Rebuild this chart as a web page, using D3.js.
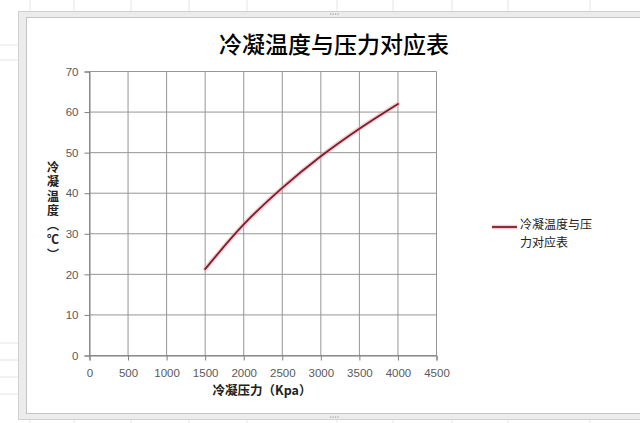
<!DOCTYPE html>
<html>
<head>
<meta charset="utf-8">
<script src="https://cdn.jsdelivr.net/npm/d3@7"></script>
<style>
  html, body { margin: 0; padding: 0; background: #ffffff; }
  svg { display: block; }
</style>
</head>
<body>
<svg id="chart" width="640" height="423"></svg>
<script>
// ---- data ----
const pressure = [1500, 2000, 2500, 3000, 3500, 4000];       // Kpa
const temperature = [21.3, 32.3, 41.3, 49.1, 55.9, 62.0];    // ℃
const xTicks = [0, 500, 1000, 1500, 2000, 2500, 3000, 3500, 4000, 4500];
const yTicks = [0, 10, 20, 30, 40, 50, 60, 70];
const chartTitle = "冷凝温度与压力对应表";
const xTitle = "冷凝压力（Kpa）";
const yTitle = "冷凝温度︵℃︶";
const legendLines = ["冷凝温度与压", "力对应表"];

const svg = d3.select("#chart");

// ---- spreadsheet background ----
const bg = svg.append("g");
[45, 60, 343, 360, 377, 394].forEach(y => {
  bg.append("line").attr("x1", 0).attr("x2", 18).attr("y1", y).attr("y2", y)
    .attr("stroke", "#e4e4e4").attr("stroke-width", 1);
});
[30, 74, 131, 189, 247, 337, 393, 452, 508, 590].forEach(x => {
  bg.append("line").attr("x1", x).attr("x2", x).attr("y1", 0).attr("y2", 11)
    .attr("stroke", "#e6e6e6").attr("stroke-width", 1);
  bg.append("line").attr("x1", x).attr("x2", x).attr("y1", 420).attr("y2", 423)
    .attr("stroke", "#e6e6e6").attr("stroke-width", 1);
});

// ---- chart frame ----
svg.append("rect").attr("x", 18.5).attr("y", 11.5).attr("width", 640).attr("height", 408)
  .attr("fill", "#ececec").attr("stroke", "#d0d0d0").attr("stroke-width", 1);
svg.append("rect").attr("x", 26.5).attr("y", 17.5).attr("width", 640).attr("height", 396)
  .attr("fill", "#ffffff").attr("stroke", "#c4c4c4").attr("stroke-width", 1);
// resize handle dots
[[334, 14], [334, 417]].forEach(([cx, cy]) => {
  for (let i = 0; i < 4; i++) {
    svg.append("rect").attr("x", cx - 4 + i * 2.5).attr("y", cy - 0.5)
      .attr("width", 1.2).attr("height", 1.2).attr("fill", "#a0a0a0");
  }
});

// ---- scales ----
const x = d3.scaleLinear().domain([0, 4500]).range([89.5, 436.5]);
const y = d3.scaleLinear().domain([0, 70]).range([355.5, 71.5]);

// ---- gridlines ----
const grid = svg.append("g");
grid.selectAll("line.h").data(yTicks).enter().append("line")
  .attr("x1", x(0)).attr("x2", x(4500))
  .attr("y1", d => y(d)).attr("y2", d => y(d))
  .attr("stroke", "#969696").attr("stroke-width", 1);
grid.selectAll("line.v").data(xTicks).enter().append("line")
  .attr("x1", d => x(d)).attr("x2", d => x(d))
  .attr("y1", y(0)).attr("y2", y(70))
  .attr("stroke", "#969696").attr("stroke-width", 1);

// ---- axes ----
const fontNum = "'Liberation Sans', Arial, sans-serif";
const xAxis = svg.append("g").attr("transform", `translate(0,${y(0)})`)
  .call(d3.axisBottom(x).tickValues(xTicks).tickSize(5).tickPadding(8).tickFormat(d3.format("d")));
const yAxis = svg.append("g").attr("transform", `translate(${x(0)},0)`)
  .call(d3.axisLeft(y).tickValues(yTicks).tickSize(5).tickPadding(6).tickFormat(d3.format("d")));
[xAxis, yAxis].forEach(a => {
  a.select(".domain").attr("stroke", "#7f7f7f").attr("stroke-width", 1);
  a.selectAll(".tick line").attr("stroke", "#7f7f7f");
  a.selectAll(".tick text").attr("fill", "#595959")
    .style("font-family", fontNum).style("font-size", "11.5px");
});
xAxis.selectAll(".tick text").attr("dy", "0.71em");

// ---- line ----
const pts = pressure.map((p, i) => [p, temperature[i]]);
const lineGen = d3.line().x(d => x(d[0])).y(d => y(d[1])).curve(d3.curveCatmullRom.alpha(0.5));
svg.append("path").attr("d", lineGen(pts)).attr("fill", "none")
  .attr("stroke", "#f0a0a8").attr("stroke-opacity", 0.55).attr("stroke-width", 4.5)
  .attr("stroke-linecap", "round");
svg.append("path").attr("d", lineGen(pts)).attr("fill", "none")
  .attr("stroke", "#7d1c2c").attr("stroke-width", 1.8).attr("stroke-linecap", "round");

// ---- title ----
const cjk = "'Noto Sans CJK SC', 'Noto Sans', sans-serif";
svg.append("text").attr("x", 334).attr("y", 47).attr("text-anchor", "middle")
  .attr("dominant-baseline", "middle")
  .style("font-family", cjk).style("font-size", "23px").style("font-weight", "500")
  .attr("fill", "#000").text(chartTitle);

// ---- axis titles ----
svg.append("text").attr("x", 262).attr("y", 392).attr("text-anchor", "middle")
  .attr("dominant-baseline", "middle")
  .style("font-family", cjk).style("font-size", "12.5px").style("font-weight", "bold")
  .attr("fill", "#222").text(xTitle);

svg.append("text").attr("x", 53).attr("y", 161)
  .style("writing-mode", "vertical-rl")
  .style("font-family", cjk).style("font-size", "12px").style("font-weight", "bold")
  .style("letter-spacing", "2.5px")
  .attr("fill", "#222").text(yTitle);

// ---- legend ----
svg.append("line").attr("x1", 492).attr("x2", 517).attr("y1", 227).attr("y2", 227)
  .attr("stroke", "#f0a0a8").attr("stroke-opacity", 0.55).attr("stroke-width", 4.5);
svg.append("line").attr("x1", 492).attr("x2", 517).attr("y1", 227).attr("y2", 227)
  .attr("stroke", "#7d1c2c").attr("stroke-width", 1.8);
svg.selectAll("text.leg").data(legendLines).enter().append("text")
  .attr("class", "leg")
  .attr("x", 520).attr("y", (d, i) => 226 + i * 17.5)
  .attr("dominant-baseline", "middle")
  .style("font-family", cjk).style("font-size", "12px")
  .attr("fill", "#222").text(d => d);
</script>
</body>
</html>
